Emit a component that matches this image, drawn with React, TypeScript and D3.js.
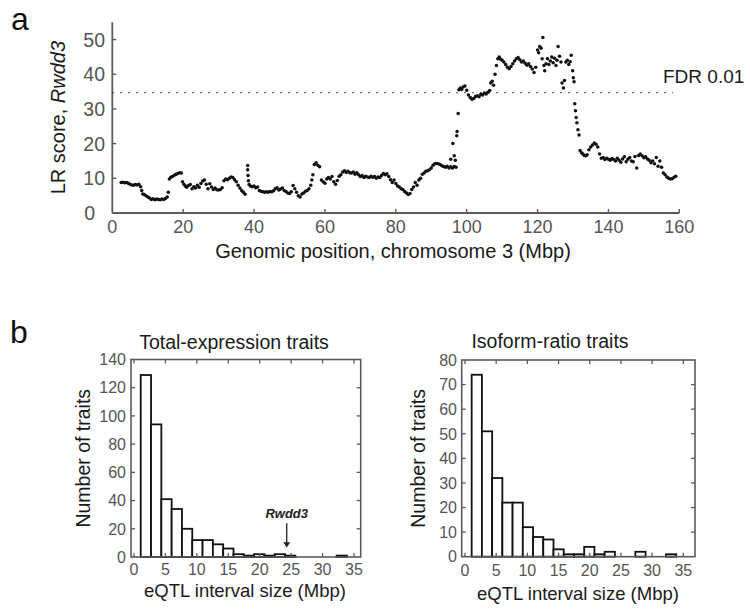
import React from 'react';
import * as d3 from 'd3';

// ---------- Panel a data: LR score along chromosome 3 ----------
const lrPoints: [number, number][] = [
  [2.5, 8.8], [3.0, 8.9], [3.5, 8.7], [4.0, 8.8], [4.5, 8.6], [5.0, 8.3], [5.5, 8.1], [6.0, 8.0], [6.5, 8.2], [7.0, 8.1],
  [7.5, 8.3], [8.0, 7.6], [8.3, 6.5], [8.6, 5.5], [9.0, 5.3], [9.5, 5.0], [10.0, 4.6], [10.5, 4.3], [11.0, 3.9], [11.5, 4.1],
  [12.0, 3.8], [12.5, 4.0], [13.0, 3.9], [13.5, 3.8], [14.0, 4.0], [14.5, 3.9], [15.0, 4.2], [15.5, 4.6], [15.8, 6.0], [16.1, 9.8],
  [16.5, 10.3], [17.0, 10.5], [17.5, 10.9], [18.0, 11.2], [18.5, 11.4], [19.0, 11.6], [19.5, 11.5], [19.8, 9.0], [20.2, 8.3], [20.6, 7.8],
  [21.0, 7.4], [21.5, 7.9], [22.0, 8.2], [22.5, 7.0], [23.0, 7.6], [23.5, 7.2], [24.0, 8.0], [24.5, 7.4], [25.0, 8.5], [25.5, 9.2],
  [26.0, 9.5], [26.5, 8.3], [27.0, 7.0], [27.5, 8.4], [28.0, 7.5], [28.5, 6.8], [29.0, 7.2], [29.5, 6.7], [30.0, 6.6], [30.5, 6.8],
  [31.0, 7.3], [31.5, 9.3], [32.0, 9.8], [32.5, 9.6], [33.0, 10.0], [33.5, 10.4], [34.0, 10.2], [34.5, 9.6], [35.0, 9.0], [35.5, 8.0],
  [36.0, 7.2], [36.5, 6.5], [37.0, 6.0], [37.5, 5.4], [38.2, 13.7], [38.2, 12.5], [38.3, 10.8], [38.4, 9.3], [38.6, 8.2], [39.0, 7.8],
  [39.5, 7.6], [40.0, 7.8], [40.5, 7.3], [41.0, 7.5], [41.5, 6.5], [42.0, 6.2], [42.5, 6.1], [43.0, 6.0], [43.5, 6.1], [44.0, 6.0],
  [44.5, 6.2], [45.0, 6.1], [45.5, 6.4], [46.0, 7.0], [46.5, 7.3], [47.0, 6.6], [47.5, 6.9], [48.0, 7.2], [48.5, 6.5], [49.0, 6.2],
  [49.5, 5.8], [50.0, 5.6], [50.5, 6.1], [51.0, 7.9], [51.5, 7.0], [52.0, 6.0], [52.5, 5.0], [53.0, 4.6], [53.5, 5.5], [54.0, 5.8],
  [54.5, 6.3], [55.0, 6.5], [55.5, 7.0], [56.0, 8.0], [56.3, 9.5], [56.6, 11.0], [57.0, 14.0], [57.5, 14.5], [58.0, 13.8], [58.5, 13.3],
  [59.0, 9.5], [59.5, 9.0], [60.0, 8.6], [60.5, 9.8], [61.0, 10.2], [61.5, 9.8], [62.0, 10.5], [62.5, 9.0], [63.0, 8.3], [63.5, 9.4],
  [64.0, 10.6], [64.5, 11.0], [65.0, 11.8], [65.5, 12.2], [66.0, 11.7], [66.5, 12.0], [67.0, 11.6], [67.5, 11.5], [68.0, 11.8], [68.5, 11.2],
  [69.0, 11.6], [69.5, 11.0], [70.0, 10.5], [70.5, 10.8], [71.0, 10.2], [71.5, 10.6], [72.0, 10.4], [72.5, 10.2], [73.0, 10.6], [73.5, 10.3],
  [74.0, 10.5], [74.5, 10.0], [75.0, 10.4], [75.5, 10.2], [76.0, 10.8], [76.5, 11.4], [77.0, 11.0], [77.5, 11.3], [78.0, 10.5], [78.5, 9.6],
  [79.0, 8.8], [79.5, 9.5], [80.0, 8.5], [80.5, 7.8], [81.0, 7.5], [81.5, 7.0], [82.0, 6.8], [82.5, 6.2], [83.0, 5.8], [83.5, 5.3],
  [84.0, 5.6], [84.5, 6.8], [85.0, 7.5], [85.5, 8.8], [86.0, 8.0], [86.5, 9.5], [87.0, 10.0], [87.5, 11.2], [88.0, 11.5], [88.5, 12.0],
  [89.0, 12.2], [89.5, 12.5], [90.0, 13.0], [90.5, 13.8], [91.0, 14.2], [91.5, 14.3], [92.0, 14.2], [92.5, 14.0], [93.0, 13.6], [93.5, 13.4],
  [94.0, 13.2], [94.5, 13.5], [95.0, 13.0], [95.5, 13.3], [96.0, 13.0], [96.5, 13.4], [97.0, 13.2], [95.5, 15.5], [96.5, 16.5], [96.8, 15.2],
  [96.1, 20.0], [97.2, 22.3], [97.3, 23.5], [97.6, 28.7], [97.8, 35.5], [98.2, 36.0], [98.6, 35.6], [99.0, 36.3], [99.5, 36.6], [100.0, 35.4],
  [100.5, 34.0], [101.0, 33.3], [101.5, 32.8], [102.0, 33.0], [102.5, 33.6], [103.0, 33.8], [103.5, 33.5], [104.0, 34.2], [104.5, 34.0], [105.0, 34.6],
  [105.5, 34.3], [106.0, 34.8], [106.5, 35.3], [106.8, 37.5], [107.2, 38.0], [107.6, 36.8], [108.0, 40.0], [108.4, 42.5], [108.8, 44.5], [109.2, 45.0],
  [109.6, 44.3], [110.0, 44.0], [110.5, 43.5], [111.0, 42.8], [111.5, 42.0], [112.0, 41.6], [112.5, 42.2], [113.0, 43.0], [113.5, 43.8], [114.0, 44.5],
  [114.5, 44.8], [115.0, 44.2], [115.5, 43.5], [116.0, 43.8], [116.5, 43.2], [117.0, 42.6], [117.5, 43.0], [118.0, 42.2], [118.5, 41.5], [119.0, 40.5],
  [119.5, 42.0], [120.0, 47.0], [120.3, 46.2], [120.6, 48.0], [121.0, 47.5], [121.3, 44.5], [121.5, 50.6], [121.8, 42.5], [122.0, 41.0], [122.4, 43.0],
  [122.8, 44.5], [123.2, 42.8], [123.6, 43.8], [124.0, 45.0], [124.4, 43.3], [124.8, 44.6], [125.2, 42.5], [125.5, 44.0], [125.8, 48.0], [126.2, 45.2],
  [126.6, 43.5], [126.9, 37.5], [127.3, 36.0], [127.6, 38.2], [128.0, 43.5], [128.4, 44.0], [128.8, 42.8], [129.2, 43.6], [129.5, 45.5], [129.9, 41.0],
  [130.1, 39.0], [130.3, 37.8], [130.5, 31.5], [130.7, 29.5], [130.9, 27.5], [131.1, 26.0], [131.4, 24.0], [131.7, 22.5], [132.0, 18.0], [132.4, 17.4],
  [132.8, 17.0], [133.2, 16.6], [133.6, 16.5], [134.0, 16.8], [134.5, 18.2], [135.0, 19.0], [135.5, 19.6], [136.0, 20.2], [136.5, 19.8], [137.0, 19.0],
  [137.5, 17.0], [138.0, 15.8], [138.5, 16.0], [139.0, 15.4], [139.5, 15.8], [140.0, 15.5], [140.5, 15.2], [141.0, 15.7], [141.5, 15.4], [142.0, 15.0],
  [142.5, 15.8], [143.0, 15.2], [143.5, 14.6], [144.0, 15.6], [144.5, 16.2], [145.0, 14.8], [145.5, 15.5], [146.0, 16.0], [146.5, 15.0], [147.0, 14.8],
  [147.5, 16.3], [148.0, 13.0], [148.5, 16.6], [149.0, 17.0], [149.5, 16.5], [150.0, 15.9], [150.5, 16.2], [151.0, 15.6], [151.5, 15.2], [152.0, 14.5],
  [152.5, 15.0], [153.0, 14.2], [153.5, 16.0], [154.0, 13.5], [154.5, 15.0], [155.0, 13.2], [155.5, 11.5], [156.0, 11.0], [156.5, 10.4], [157.0, 10.0],
  [157.5, 9.8], [158.0, 9.9], [158.5, 10.3], [159.0, 10.6],
];
const fdrThreshold = 34.7;
const lrTicks = [0, 10, 20, 30, 40, 50];
const posTicks = [0, 20, 40, 60, 80, 100, 120, 140, 160];

// ---------- Panel b data: eQTL interval-size histograms ----------
const histBinStart = 1.07;
const histBinWidth = 1.64;
const totalCounts = [129, 94, 41, 34, 20, 12, 12, 9, 6, 2, 1, 2, 1, 2, 1, 0, 0, 0, 0, 1];
const isoformCounts = [74, 51, 32, 22, 22, 12, 8, 7, 3, 1, 1, 4, 1, 2, 0, 0, 2, 0, 0, 1];
const histXTicks = [0, 5, 10, 15, 20, 25, 30, 35];
const totalYTicks = [0, 20, 40, 60, 80, 100, 120, 140];
const isoYTicks = [0, 10, 20, 30, 40, 50, 60, 70, 80];
const rwdd3Interval = 24.3;

const FONT = "'Liberation Sans', Arial, Helvetica, sans-serif";
const TICK_COLOR = '#555';
const AXIS_COLOR = '#5a5a5a';

type HistProps = {
  counts: number[];
  yTicks: number[];
  yMax: number;
  box: { l: number; r: number; t: number; b: number };
  labelRange: [number, number];
  title: string;
  titleX: number;
  titleY: number;
  yLabelX: number;
  xLabelX: number;
  xLabelY: number;
  yTickRight: number;
  xTickY: number;
  annotate?: boolean;
};

function Histogram(p: HistProps) {
  const x = d3.scaleLinear().domain([0, 35]).range(p.labelRange);
  const y = d3.scaleLinear().domain([0, p.yMax]).range([p.box.b, p.box.t]);
  const tl = 4;
  return (
    <g fontFamily={FONT}>
      {p.counts.map((c, i) => {
        const x0 = x(histBinStart + i * histBinWidth);
        const x1 = x(histBinStart + (i + 1) * histBinWidth);
        return (
          <rect key={i} x={x0} y={y(c)} width={x1 - x0} height={y(0) - y(c)}
            fill="#fff" stroke="#111" strokeWidth={1.8} />
        );
      })}
      <rect x={p.box.l} y={p.box.t} width={p.box.r - p.box.l} height={p.box.b - p.box.t}
        fill="none" stroke={AXIS_COLOR} strokeWidth={1.6} />
      {histXTicks.filter(t => x(t) > p.box.l + 2 && x(t) < p.box.r - 2).map(t => (
        <g key={'xt' + t}>
          <line x1={x(t)} x2={x(t)} y1={p.box.t} y2={p.box.t + tl} stroke={AXIS_COLOR} strokeWidth={1.3} />
          <line x1={x(t)} x2={x(t)} y1={p.box.b} y2={p.box.b - tl} stroke={AXIS_COLOR} strokeWidth={1.3} />
        </g>
      ))}
      {histXTicks.map(t => (
        <text key={'xl' + t} x={x(t)} y={p.xTickY} textAnchor="middle" fontSize={16} fill={TICK_COLOR}>{t}</text>
      ))}
      {p.yTicks.map(t => (
        <g key={'yt' + t}>
          {t > 0 && t < p.yMax && (
            <>
              <line x1={p.box.l} x2={p.box.l + tl} y1={y(t)} y2={y(t)} stroke={AXIS_COLOR} strokeWidth={1.3} />
              <line x1={p.box.r} x2={p.box.r - tl} y1={y(t)} y2={y(t)} stroke={AXIS_COLOR} strokeWidth={1.3} />
            </>
          )}
          <text x={p.yTickRight} y={y(t)} dy="0.36em" textAnchor="end" fontSize={16} fill={TICK_COLOR}>{t}</text>
        </g>
      ))}
      <text x={p.titleX} y={p.titleY} textAnchor="middle" fontSize={19.5} fill="#1a1a1a">{p.title}</text>
      <text transform={`translate(${p.yLabelX},${(p.box.t + p.box.b) / 2}) rotate(-90)`} textAnchor="middle"
        fontSize={19.5} fill="#1a1a1a">Number of traits</text>
      <text x={p.xLabelX} y={p.xLabelY} textAnchor="middle" fontSize={18.5} fill="#1a1a1a">eQTL interval size (Mbp)</text>
      {p.annotate && (
        <g>
          <line x1={x(rwdd3Interval)} x2={x(rwdd3Interval)} y1={y(24)} y2={y(8.5)} stroke="#222" strokeWidth={1.3} />
          <path d={`M${x(rwdd3Interval) - 3.5},${y(10.5)} L${x(rwdd3Interval)},${y(6.8)} L${x(rwdd3Interval) + 3.5},${y(10.5)} Z`} fill="#222" />
          <text x={x(rwdd3Interval)} y={y(27.5)} textAnchor="middle" fontSize={13} fontStyle="italic" fontWeight="bold" fill="#222">Rwdd3</text>
        </g>
      )}
    </g>
  );
}

export default function App() {
  const x = d3.scaleLinear().domain([0, 160]).range([112.3, 679.3]);
  const y = d3.scaleLinear().domain([0, 55]).range([213, 22.2]);
  return (
    <svg width={750} height={612} style={{ position: 'absolute', left: 0, top: 0, background: '#fff' }}
      fontFamily={FONT}>
      <rect width={750} height={612} fill="#fff" />
      {/* Panel a */}
      <text x={11} y={30} fontSize={32} fill="#111">a</text>
      <line x1={x(0)} x2={x(160)} y1={y(0)} y2={y(0)} stroke={AXIS_COLOR} strokeWidth={1.8} />
      <line x1={x(0)} x2={x(0)} y1={y(0)} y2={y(55)} stroke={AXIS_COLOR} strokeWidth={1.8} />
      {posTicks.map(t => (
        <g key={'px' + t}>
          {t > 0 && <line x1={x(t)} x2={x(t)} y1={y(0)} y2={y(0) - 4} stroke={AXIS_COLOR} strokeWidth={1.4} />}
          <text x={x(t)} y={233} textAnchor="middle" fontSize={18} fill={TICK_COLOR}>{t}</text>
        </g>
      ))}
      {lrTicks.map(t => (
        <g key={'ly' + t}>
          {t > 0 && <line x1={x(0)} x2={x(0) + 4} y1={y(t)} y2={y(t)} stroke={AXIS_COLOR} strokeWidth={1.4} />}
          <text x={t === 0 ? 95 : 105} y={y(t)} dy="0.36em" textAnchor="end" fontSize={19.5} fill={TICK_COLOR}>{t}</text>
        </g>
      ))}
      <line x1={x(0)} x2={x(158.2)} y1={y(fdrThreshold)} y2={y(fdrThreshold)} stroke="#333" strokeWidth={1.4}
        strokeDasharray="1.4 6.6" />
      <text x={663} y={83} fontSize={19} fill="#1a1a1a">FDR 0.01</text>
      {lrPoints.map(([pos, lr], i) => (
        <circle key={i} cx={x(pos)} cy={y(lr)} r={1.75} fill="#111" />
      ))}
      <text transform={`translate(65,${(y(0) + y(55)) / 2}) rotate(-90)`} textAnchor="middle" fontSize={20} fill="#1a1a1a">
        LR score, <tspan fontStyle="italic">Rwdd3</tspan>
      </text>
      <text x={393} y={258} textAnchor="middle" fontSize={20} fill="#1a1a1a">Genomic position, chromosome 3 (Mbp)</text>

      {/* Panel b */}
      <text x={10} y={343} fontSize={32} fill="#111">b</text>
      <Histogram counts={totalCounts} yTicks={totalYTicks} yMax={140}
        box={{ l: 131, r: 360.7, t: 359.5, b: 557 }} labelRange={[134, 354]}
        title="Total-expression traits" titleX={234} titleY={349}
        yLabelX={90} xLabelX={245} xLabelY={597} yTickRight={126} xTickY={575} annotate />
      <Histogram counts={isoformCounts} yTicks={isoYTicks} yMax={80}
        box={{ l: 461.7, r: 695, t: 360, b: 556.7 }} labelRange={[465, 683.3]}
        title="Isoform-ratio traits" titleX={550} titleY={348}
        yLabelX={425} xLabelX={578} xLabelY={600} yTickRight={457} xTickY={576} />
    </svg>
  );
}
